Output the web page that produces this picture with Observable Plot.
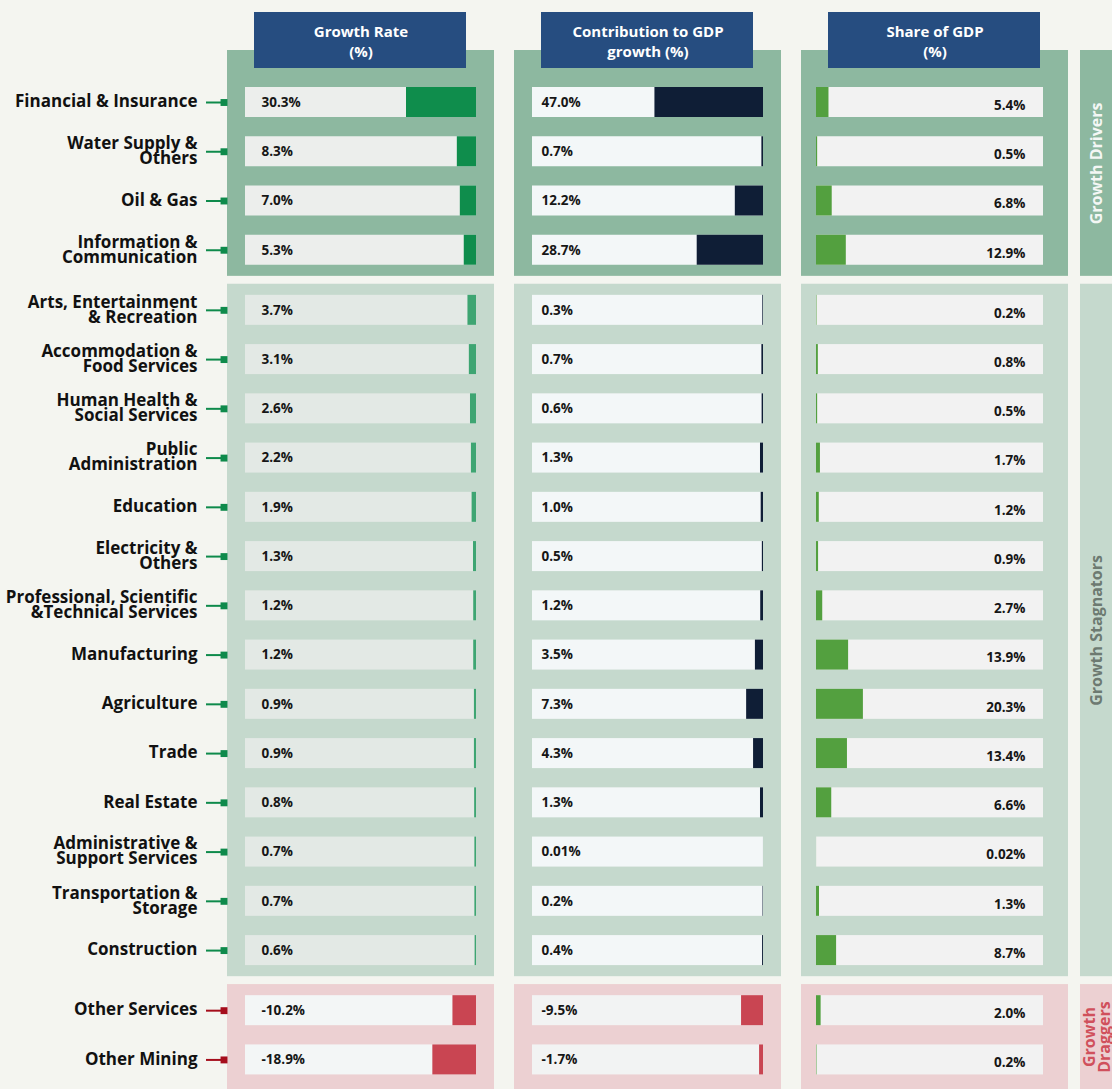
<!DOCTYPE html>
<html><head><meta charset="utf-8">
<script src="https://cdn.jsdelivr.net/npm/d3@7"></script>
<script src="https://cdn.jsdelivr.net/npm/@observablehq/plot@0.6"></script>
<style>
html,body{margin:0;padding:0;background:#f4f5f0;}
#chart{display:flex;width:1112px;height:1089px;overflow:hidden;}
#chart svg{flex:none;}
</style></head><body><div id="chart"></div>
<script>
// ---------- data ----------
const sectors = [
  "Financial & Insurance", "Water Supply &\nOthers", "Oil & Gas", "Information &\nCommunication",
  "Arts, Entertainment\n& Recreation", "Accommodation &\nFood Services", "Human Health &\nSocial Services",
  "Public\nAdministration", "Education", "Electricity &\nOthers", "Professional, Scientific\n&Technical Services",
  "Manufacturing", "Agriculture", "Trade", "Real Estate", "Administrative &\nSupport Services",
  "Transportation &\nStorage", "Construction", "Other Services", "Other Mining"
];
const groups = ["Growth Drivers", "Growth Stagnators", "Growth\nDraggers"];
const sectorGroup = [0,0,0,0, 1,1,1,1,1,1,1,1,1,1,1,1,1,1, 2,2];
const metrics = ["Growth Rate", "Contribution to GDP growth", "Share of GDP"];
const metricTitles = ["Growth Rate\n(%)", "Contribution to GDP\ngrowth (%)", "Share of GDP\n(%)"];
const growthRate = [30.3, 8.3, 7.0, 5.3, 3.7, 3.1, 2.6, 2.2, 1.9, 1.3, 1.2, 1.2, 0.9, 0.9, 0.8, 0.7, 0.7, 0.6, -10.2, -18.9];
const contributionToGrowth = [47.0, 0.7, 12.2, 28.7, 0.3, 0.7, 0.6, 1.3, 1.0, 0.5, 1.2, 3.5, 7.3, 4.3, 1.3, 0.01, 0.2, 0.4, -9.5, -1.7];
const shareOfGDP = [5.4, 0.5, 6.8, 12.9, 0.2, 0.8, 0.5, 1.7, 1.2, 0.9, 2.7, 13.9, 20.3, 13.4, 6.6, 0.02, 1.3, 8.7, 2.0, 0.2];
const FULL_SCALE = 100; // each track spans 0–100 %

// ---------- styles ----------
const groupBg = ["#8db8a0", "#c5d9cd", "#ecd0d2"];
const sideText = ["#f4f7f5", "#6d7a71", "#d0505c"];
const connColor = ["#0e8a4b", "#0e8a4b", "#a50d1b"];
const barColors = [["#0f8d4c", "#3ea572", "#c94552"], ["#0f1e36", "#0f1e36", "#c94552"], ["#53a03f", "#53a03f", "#53a03f"]];
const trackColors = [["#eceeec", "#e3e9e5", "#f3f6f6"], ["#f3f7f8", "#f3f7f8", "#f2f3f3"], ["#f2f2f2", "#f2f2f2", "#f2f2f2"]];
const FONT = "'Open Sans', 'Noto Sans', sans-serif";

// ---------- layout ----------
const H = 1089;
const ROW_PX = 49.25, FIRST_ROW_PX = 102;
const toSlot = px => (px - FIRST_ROW_PX) / ROW_PX;
const GROUP_GAP = 0.22, GROUP_PAD = 0.53, BAR_HALF = 15 / ROW_PX;
const ML = 227, MR = 12, PANEL_W = 267, PANEL_GAP = 20, TRACK_INSET = 18;
const SHARE_SHIFT = -3; // share panel track sits a little further left
const W = ML + metrics.length * PANEL_W + (metrics.length - 1) * PANEL_GAP + MR;

const rows = sectors.map((sector, i) => ({
  sector, group: sectorGroup[i], slot: i + GROUP_GAP * sectorGroup[i],
  values: [growthRate[i], contributionToGrowth[i], shareOfGDP[i]]
}));
const cells = rows.flatMap(r => metrics.map((metric, k) => ({...r, metric, k, value: r.values[k]})));
const groupRows = groups.map((name, g) => {
  const s = rows.filter(r => r.group === g).map(r => r.slot);
  const y1 = g === 0 ? toSlot(50) : d3.min(s) - GROUP_PAD;
  const y2 = g === groups.length - 1 ? toSlot(H) : d3.max(s) + GROUP_PAD;
  return {name, g, y1, y2, mid: (y1 + y2) / 2};
});
const metricRows = metrics.map((metric, k) => ({metric, title: metricTitles[k]}));
const fmt = v => (Math.abs(v) < 0.1 ? v.toFixed(2) : v.toFixed(1)) + "%";
const yScale = {domain: [toSlot(0), toSlot(H)], range: [0, H], axis: null};
const first = () => metrics[0];
const leftCells = cells.filter(d => d.k < 2), shareCells = cells.filter(d => d.k === 2);
const barY = {y1: d => d.slot - BAR_HALF, y2: d => d.slot + BAR_HALF};
const valueText = {fx: "metric", y: "slot", text: d => fmt(d.value), fontSize: 13.5, fontWeight: 700, fill: "#161616"};

const main = Plot.plot({
  width: W, height: H, marginLeft: ML, marginRight: MR, marginTop: 0, marginBottom: 0,
  style: {background: "transparent", fontFamily: FONT, overflow: "visible"},
  fx: {domain: metrics, axis: null, paddingInner: PANEL_GAP / (PANEL_W + PANEL_GAP), paddingOuter: 0},
  x: {domain: [0, FULL_SCALE], axis: null, insetLeft: TRACK_INSET, insetRight: TRACK_INSET},
  y: yScale,
  color: {type: "identity"},
  marks: [
    Plot.rect(groupRows, {y1: "y1", y2: "y2", fill: d => groupBg[d.g]}),
    Plot.rect(metricRows, {fx: "metric", y1: toSlot(12), y2: toSlot(68), insetLeft: 27, insetRight: 28, fill: "#264d80"}),
    Plot.text(metricRows, {fx: "metric", y: toSlot(40), text: "title", fill: "#ffffff", fontSize: 15, fontWeight: 700, lineHeight: 1.33}),
    // tracks
    Plot.rect(leftCells, {fx: "metric", ...barY, insetLeft: TRACK_INSET, insetRight: TRACK_INSET, fill: d => trackColors[d.k][d.group]}),
    Plot.rect(shareCells, {fx: "metric", ...barY, insetLeft: TRACK_INSET + SHARE_SHIFT, insetRight: TRACK_INSET - SHARE_SHIFT + 4, fill: d => trackColors[d.k][d.group]}),
    // bars: growth & contribution grow leftwards from the right end, share grows rightwards
    Plot.rect(leftCells, {fx: "metric", x1: d => FULL_SCALE - Math.abs(d.value), x2: FULL_SCALE, ...barY, fill: d => barColors[d.k][d.group]}),
    Plot.rect(shareCells, {fx: "metric", x1: 0, x2: d => Math.abs(d.value), ...barY, dx: SHARE_SHIFT, fill: d => barColors[d.k][d.group]}),
    // value labels
    Plot.text(cells.filter(d => d.k === 0), {...valueText, frameAnchor: "left", textAnchor: "start", dx: 34}),
    Plot.text(cells.filter(d => d.k === 1), {...valueText, frameAnchor: "left", textAnchor: "start", dx: 27}),
    Plot.text(shareCells, {...valueText, frameAnchor: "right", textAnchor: "end", dx: -43, dy: 3}),
    // sector labels and connectors
    Plot.ruleY(rows, {fx: first, y: "slot", insetLeft: -21, insetRight: PANEL_W + 5, stroke: d => connColor[d.group], strokeWidth: 2}),
    Plot.dot(rows, {fx: first, y: "slot", frameAnchor: "left", symbol: "square", r: 3.9, dx: -3.5, fill: d => connColor[d.group], stroke: "none"}),
    Plot.text(rows, {fx: first, y: "slot", text: "sector", frameAnchor: "left", textAnchor: "end", dx: -30, fontSize: 17, fontWeight: 700, lineHeight: 0.88, fill: "#111111"})
  ]
});

const side = Plot.plot({
  width: 1112 - W, height: H, margin: 0,
  style: {background: "transparent", fontFamily: FONT, overflow: "visible"},
  y: yScale,
  color: {type: "identity"},
  marks: [
    Plot.rect(groupRows, {y1: "y1", y2: "y2", fill: d => groupBg[d.g]}),
    Plot.text(groupRows, {y: "mid", text: "name", rotate: -90, fill: d => sideText[d.g], fontSize: 16, fontWeight: 700, lineHeight: 0.95, dx: 1})
  ]
});
document.getElementById("chart").append(main, side);
</script>
</body></html>
